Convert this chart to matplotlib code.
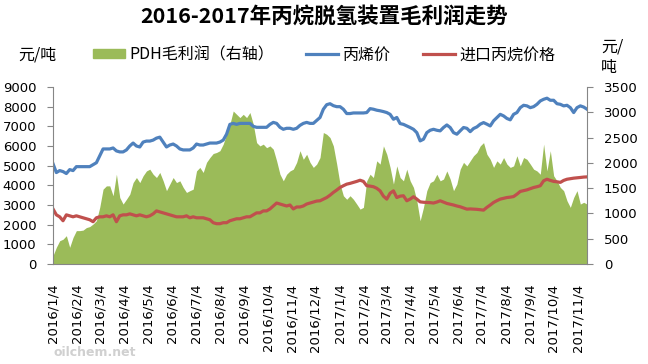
import matplotlib.pyplot as plt
import pandas as pd

plt.rcParams['font.family'] = ['Noto Sans CJK SC', 'DejaVu Sans']

# PDH gross profit (right axis), yuan/t
profit = [165, 330, 460, 490, 560, 330, 525, 660, 660, 670,
          720, 740, 790, 855, 1120, 1480, 1545, 1545, 1350, 1775,
          1315, 1185, 1280, 1380, 1610, 1710, 1610, 1745, 1840, 1875,
          1775, 1710, 1810, 1645, 1450, 1580, 1710, 1610, 1645, 1515,
          1415, 1450, 1480, 1840, 1910, 1810, 2010, 2105, 2185, 2205,
          2240, 2370, 2565, 2765, 3025, 2960, 2895, 2960, 2895, 2995,
          2765, 2400, 2335, 2370, 2300, 2335, 2270, 2040, 1775, 1645,
          1775, 1840, 1875, 2010, 2240, 2070, 2170, 2010, 1910, 1975,
          2105, 2600, 2565, 2500, 2335, 1975, 1580, 1350, 1280, 1350,
          1280, 1185, 1085, 1120, 1645, 1775, 1710, 2040, 1975, 2335,
          2170, 1910, 1580, 1940, 1710, 1645, 1875, 1645, 1515, 1250,
          855, 1120, 1450, 1610, 1645, 1775, 1645, 1680, 1840, 1680,
          1450, 1580, 1875, 2010, 1940, 2040, 2140, 2205, 2335, 2400,
          2170, 2070, 1910, 2040, 1975, 2105, 1975, 1910, 1940, 2140,
          1940, 2105, 2070, 1975, 1875, 1840, 1775, 2370, 1840, 2240,
          1745, 1645, 1515, 1450, 1250, 1120, 1315, 1450, 1185, 1220,
          1185]

# propylene price, yuan/t
propylene = [5100, 4650, 4750, 4700, 4600, 4800, 4750, 4950, 4950, 4950,
             4950, 4950, 5050, 5150, 5500, 5850, 5850, 5850, 5900, 5750,
             5700, 5700, 5800, 6000, 6150, 6000, 5950, 6200, 6250, 6250,
             6300, 6400, 6450, 6200, 5950, 6050, 6100, 6000, 5850, 5800,
             5800, 5800, 5900, 6100, 6050, 6050, 6100, 6150, 6150, 6150,
             6200, 6300, 6600, 7100, 7150, 7100, 7150, 7150, 7150, 7150,
             7000, 6950, 6950, 6950, 6950, 7100, 7200, 7150, 6950, 6850,
             6900, 6900, 6850, 6900, 7050, 7150, 7200, 7150, 7150, 7300,
             7450, 7870, 8100, 8150, 8050, 8000, 8000, 7870, 7650, 7650,
             7680, 7680, 7680, 7680, 7700, 7900, 7870, 7820, 7790, 7750,
             7700, 7610, 7360, 7450, 7140, 7100, 7020, 6940, 6850, 6680,
             6260, 6345, 6680, 6800, 6850, 6800, 6770, 6940, 7070, 6940,
             6680, 6600, 6770, 6940, 6900, 6730, 6890, 6970, 7110, 7190,
             7110, 7020, 7280, 7445, 7610, 7530, 7400, 7330, 7610, 7700,
             7950, 8070, 8040, 7950, 8000, 8120, 8290, 8375, 8430, 8325,
             8325, 8150, 8120, 8040, 8070, 7950, 7700, 7950, 8040, 7980,
             7870]

# imported propane price, yuan/t
propane = [2800, 2500, 2400, 2200, 2500, 2450, 2400, 2450, 2400, 2350,
           2300, 2250, 2150, 2350, 2400, 2400, 2450, 2400, 2500, 2150,
           2450, 2500, 2500, 2550, 2500, 2450, 2500, 2450, 2400, 2450,
           2550, 2700, 2650, 2600, 2550, 2500, 2450, 2400, 2400, 2400,
           2450, 2350, 2400, 2350, 2350, 2350, 2300, 2250, 2100, 2050,
           2050, 2100, 2100, 2200, 2250, 2300, 2300, 2350, 2400, 2400,
           2500, 2600, 2600, 2700, 2700, 2800, 2950, 3100, 3050, 3000,
           2950, 3000, 2800, 2900, 2900, 2950, 3050, 3100, 3150, 3200,
           3215, 3300, 3380, 3500, 3640, 3760, 3890, 3980, 4060, 4100,
           4150, 4200, 4260, 4200, 3980, 3960, 3930, 3850, 3720, 3450,
           3300, 3600, 3720, 3380, 3450, 3470, 3215, 3300, 3420, 3300,
           3160, 3140, 3130, 3120, 3100, 3150, 3215, 3150, 3080, 3040,
           3000, 2950, 2910, 2850, 2790, 2800, 2790, 2780, 2760, 2740,
           2880, 3000, 3130, 3220, 3300, 3340, 3380, 3400, 3430, 3550,
           3690, 3730, 3770, 3830, 3890, 3930, 3980, 4230, 4310, 4250,
           4200, 4180, 4150, 4250, 4310, 4340, 4365, 4380, 4400, 4420,
           4430]

dates = pd.date_range('2016-01-04', '2017-11-16', periods=len(profit))
tick_dates = pd.date_range('2016-01-04', periods=23, freq=pd.DateOffset(months=1))
tick_labels = [f'{d.year}/{d.month}/{d.day}' for d in tick_dates]

green = '#9BBB59'
blue = '#4F81BD'
red = '#C0504D'
axis_gray = '#868686'

fig = plt.figure(figsize=(6.48, 3.64), dpi=100)
ax = fig.add_axes([0.0818, 0.2747, 0.8241, 0.4863])
ax2 = ax.twinx()

ax2.fill_between(dates, profit, color=green, linewidth=0)
ax.plot(dates, propylene, color=blue, lw=2.3)
ax.plot(dates, propane, color=red, lw=2.3)
ax.set_zorder(ax2.get_zorder() + 1)
ax.patch.set_visible(False)

ax.set_xlim(dates[0], dates[-1])
ax.set_ylim(0, 9000)
ax2.set_ylim(0, 3500)
ax.set_yticks(range(0, 9001, 1000))
ax2.set_yticks(range(0, 3501, 500))
ax.set_xticks(tick_dates)
ax.set_xticklabels(tick_labels, rotation=90, family='DejaVu Sans', fontsize=9.5)

for a in (ax, ax2):
    a.spines['top'].set_visible(False)
    for s in ('left', 'right', 'bottom'):
        a.spines[s].set_color(axis_gray)
ax.spines['right'].set_visible(False)
ax2.spines['bottom'].set_visible(False)
ax2.spines['left'].set_visible(False)

ax.tick_params(axis='y', direction='out', length=4, color=axis_gray, pad=8,
               labelsize=9.5, labelfontfamily='DejaVu Sans')
ax2.tick_params(axis='y', direction='out', length=4, color=axis_gray, pad=8,
                labelsize=9.5, labelfontfamily='DejaVu Sans')
ax.tick_params(axis='x', length=0, pad=14)

fig.text(0.5, 1 - 17 / 364, '2016-2017年丙烷脱氢装置毛利润走势', ha='center', va='center',
         fontsize=15.5, fontweight='bold')
fig.text(18 / 648, 1 - 55 / 364, '元/吨', ha='left', va='center', fontsize=11.5)
fig.text(601 / 648, 1 - 57 / 364, '元/\n吨', ha='left', va='center', fontsize=11.5,
         linespacing=1.3)

handles = [plt.Rectangle((0, 0), 1, 1, color=green),
           plt.Line2D([], [], color=blue, lw=2.3),
           plt.Line2D([], [], color=red, lw=2.3)]
fig.legend(handles, ['PDH毛利润（右轴）', '丙烯价', '进口丙烷价格'], loc='center',
           bbox_to_anchor=(0.5, 1 - 55 / 364), ncol=3, frameon=False, fontsize=11.5,
           handlelength=2.0, handleheight=0.5, handletextpad=0.3, columnspacing=2.0)

fig.text(95 / 648, 1 - 352 / 364, 'oilchem.net', ha='center', va='center',
         fontsize=9, color='#d0d0d0', family='DejaVu Sans', fontweight='bold')

fig.savefig('out.png', dpi=100)
